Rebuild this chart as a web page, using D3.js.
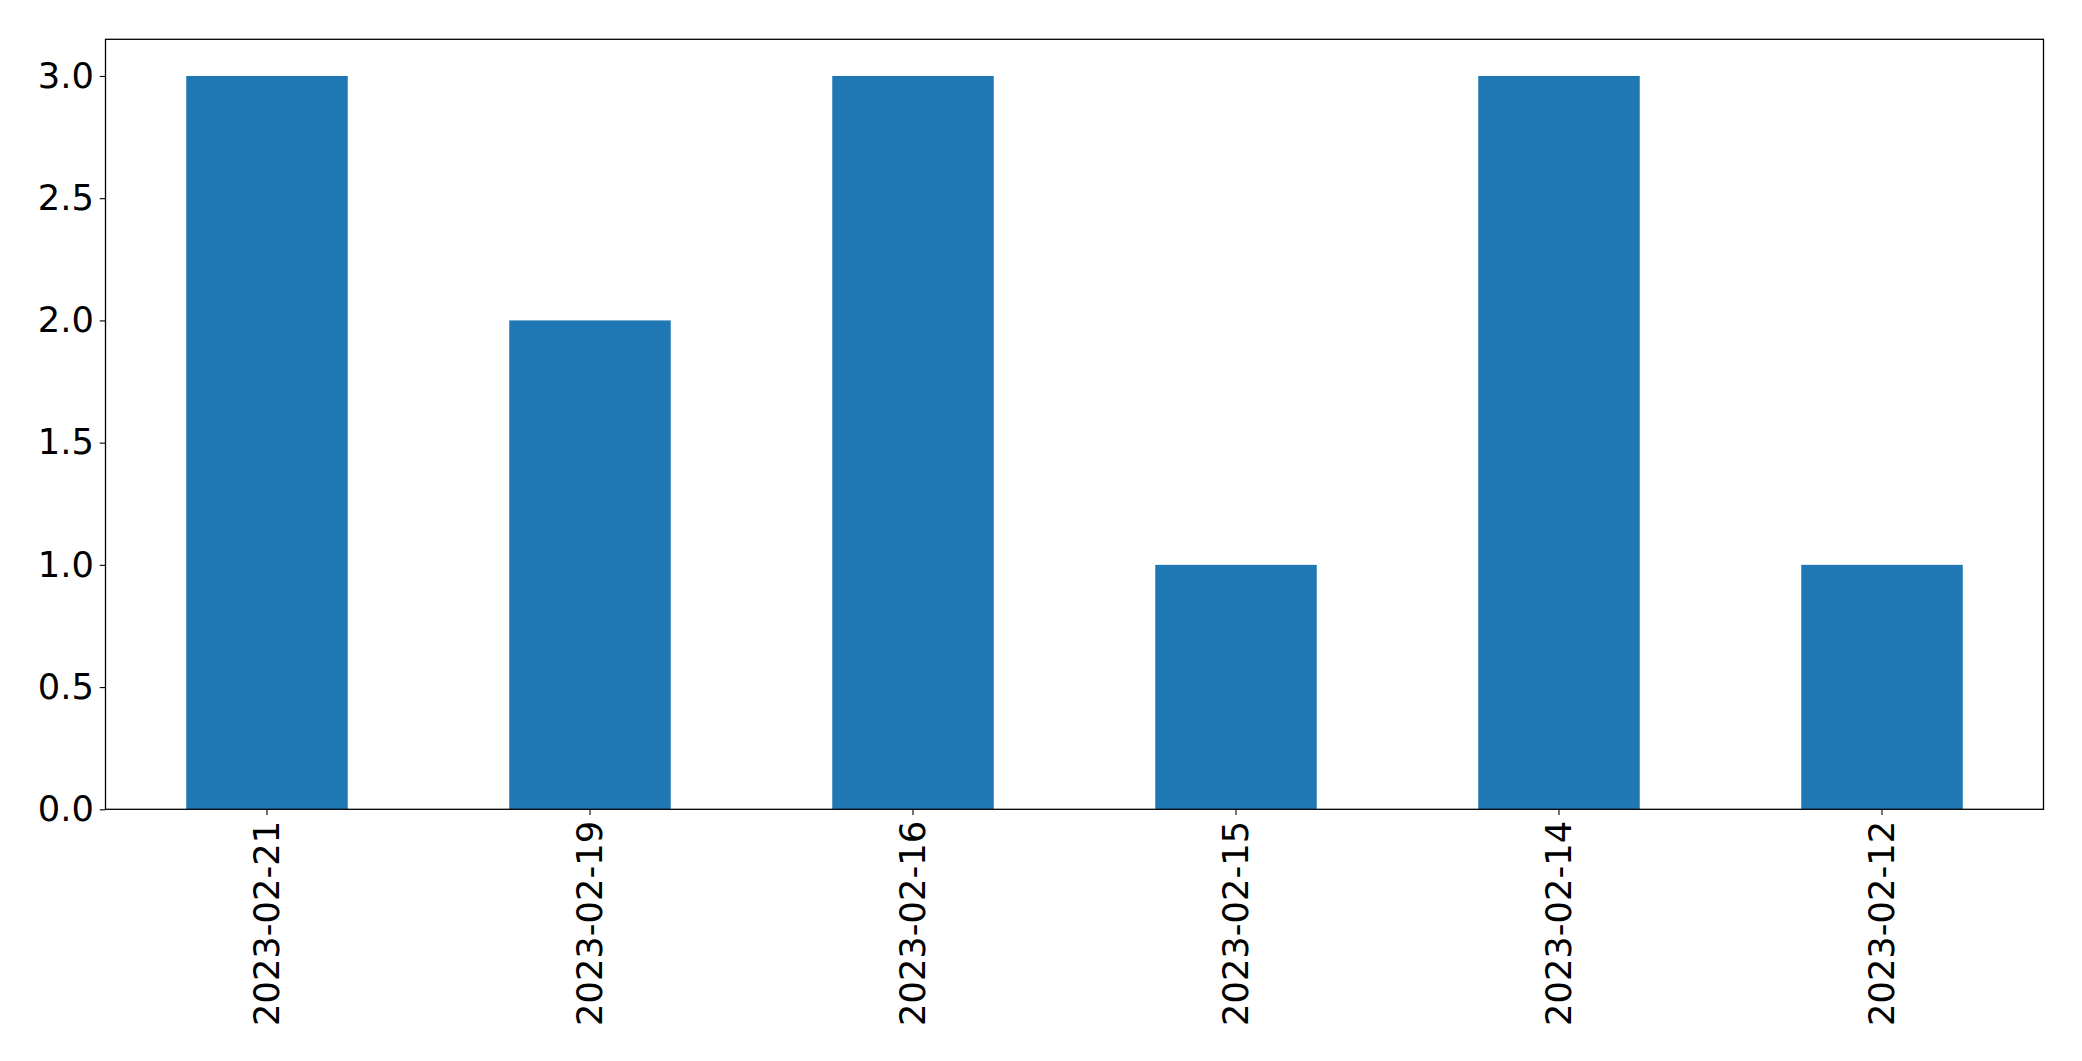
<!DOCTYPE html>
<html><head><meta charset="utf-8">
<script src="https://cdn.jsdelivr.net/npm/d3@7"></script>
<style>body{margin:0;background:#fff;} svg{display:block;}</style>
</head><body>
<script>
const categories = ["2023-02-21","2023-02-19","2023-02-16","2023-02-15","2023-02-14","2023-02-12"];
const values = [3,2,3,1,3,1];
const yTicks = [0,0.5,1.0,1.5,2.0,2.5,3.0];

const W = 2082, H = 1061;
const m = {left:105.5, right:W-2043.5, top:39.3, bottom:H-809.3};
const svg = d3.select("body").append("svg").attr("width",W).attr("height",H);
const x = d3.scaleBand().domain(categories).range([m.left, W-m.right]).paddingInner(0.5).paddingOuter(0.25);
const y = d3.scaleLinear().domain([0, 3.15]).range([H-m.bottom, m.top]);

svg.selectAll("rect.bar").data(values).join("rect").attr("class","bar")
  .attr("x",(d,i)=>x(categories[i])).attr("width",x.bandwidth())
  .attr("y",d=>y(d)).attr("height",d=>y(0)-y(d)).attr("fill","#1f77b4");

const font = "DejaVu Sans";
const fs = "35.3px";
const ya = svg.append("g").attr("transform",`translate(${m.left},0)`)
  .call(d3.axisLeft(y).tickValues(yTicks).tickFormat(d3.format(".1f")).tickSize(5.8).tickPadding(5.8));
ya.select(".domain").remove();
ya.selectAll("text").attr("font-family",font).attr("font-size",fs).attr("fill","#000");
ya.selectAll("line").attr("stroke","#000").attr("stroke-width",1.1);

const xa = svg.append("g").attr("transform",`translate(0,${H-m.bottom})`)
  .call(d3.axisBottom(x).tickSize(5.8).tickPadding(5.8));
xa.select(".domain").remove();
xa.selectAll("line").attr("stroke","#000").attr("stroke-width",1.1);
xa.selectAll("text").attr("font-family",font).attr("font-size",fs).attr("fill","#000")
  .attr("transform","rotate(-90)").attr("text-anchor","end").attr("dy","0.35em")
  .attr("x",-11.6).attr("y",0);

svg.append("rect").attr("x",m.left).attr("y",m.top).attr("width",W-m.left-m.right).attr("height",H-m.top-m.bottom)
  .attr("fill","none").attr("stroke","#000").attr("stroke-width",1.3);
</script>
</body></html>
